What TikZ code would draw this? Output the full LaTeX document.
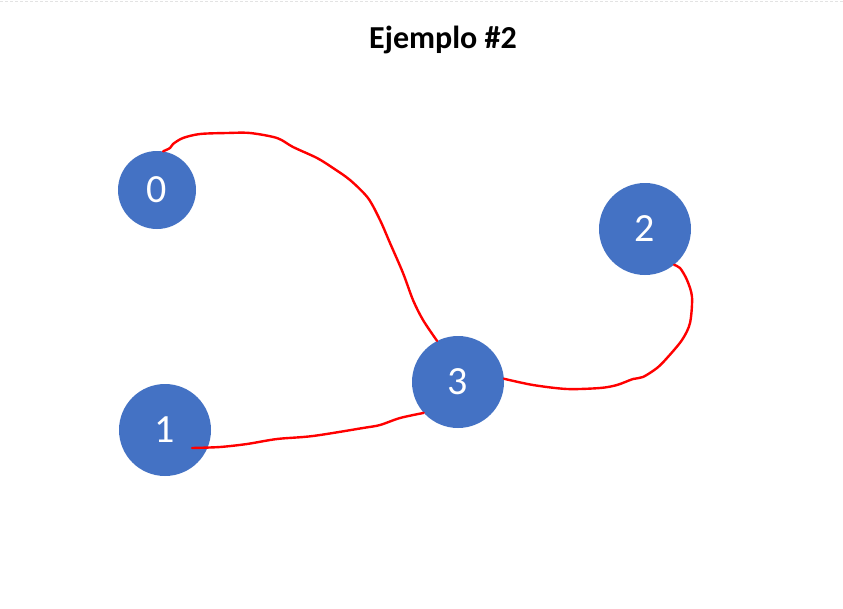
\documentclass[tikz,border=0pt]{standalone}
\usepackage{xcolor}
\usepackage{fontspec}
\setmainfont{Carlito}
\usepackage{tikz}
\usetikzlibrary{calc}
\definecolor{nodo-blue}{HTML}{4472C4}
\definecolor{trazo-red}{HTML}{FF0000}
\definecolor{borde-gray}{HTML}{E3E3E3}

\tikzset{
    vertex/.style={circle, fill=nodo-blue, draw=none, text=white, inner sep=0pt, font=\fontsize{40}{40}\selectfont},
    trazo/.style={draw=trazo-red, line width=2.4pt, line cap=round, line join=round}
}

\begin{document}
\begin{tikzpicture}[x=1pt, y=-1pt]
    \useasboundingbox (0,0) rectangle (843,608);
    \fill[white] (0,0) rectangle (843,608);
    \draw[borde-gray, line width=0.8pt, dash pattern=on 3pt off 2pt] (0,1.5) -- (843,1.5);

    \node (title) at (443,40) {\fontsize{32}{32}\selectfont\bfseries Ejemplo \#2};

    % nodos
    \node (n0) [vertex, minimum size=78pt] at (157,190) {0};
    \node (n1) [vertex, minimum size=92pt] at (165,430) {1};
    \node (n2) [vertex, minimum size=92pt] at (645,229) {2};
    \node (n3) [vertex, minimum size=92pt] at (458,382) {3};

    % aristas dibujadas a mano
    \draw[trazo] plot[smooth, tension=0.5] coordinates {(n0.81) (170,148) (173,144) (183,138) (200,134)
        (227,133) (250,133) (277,138) (293,147) (317,158) (333,168) (350,180) (368,198)
        (380,220) (390,243) (403,273) (413,300) (423,320) (n3.117)};
    \draw[trazo] plot[smooth, tension=0.5] coordinates {($(n1.center)+(27,18)$) (220,447) (247,444)
        (277,439) (313,436) (363,428) (380,425) (400,418) (n3.-138)};
    \draw[trazo] plot[smooth, tension=0.5] coordinates {(n3.4) (533,385) (567,389) (600,388) (617,385)
        (633,379) (643,377) (657,368) (667,358) (682,340) (690,323) (692,297) (687,280) (680,268) (n2.-51)};
\end{tikzpicture}
\end{document}
